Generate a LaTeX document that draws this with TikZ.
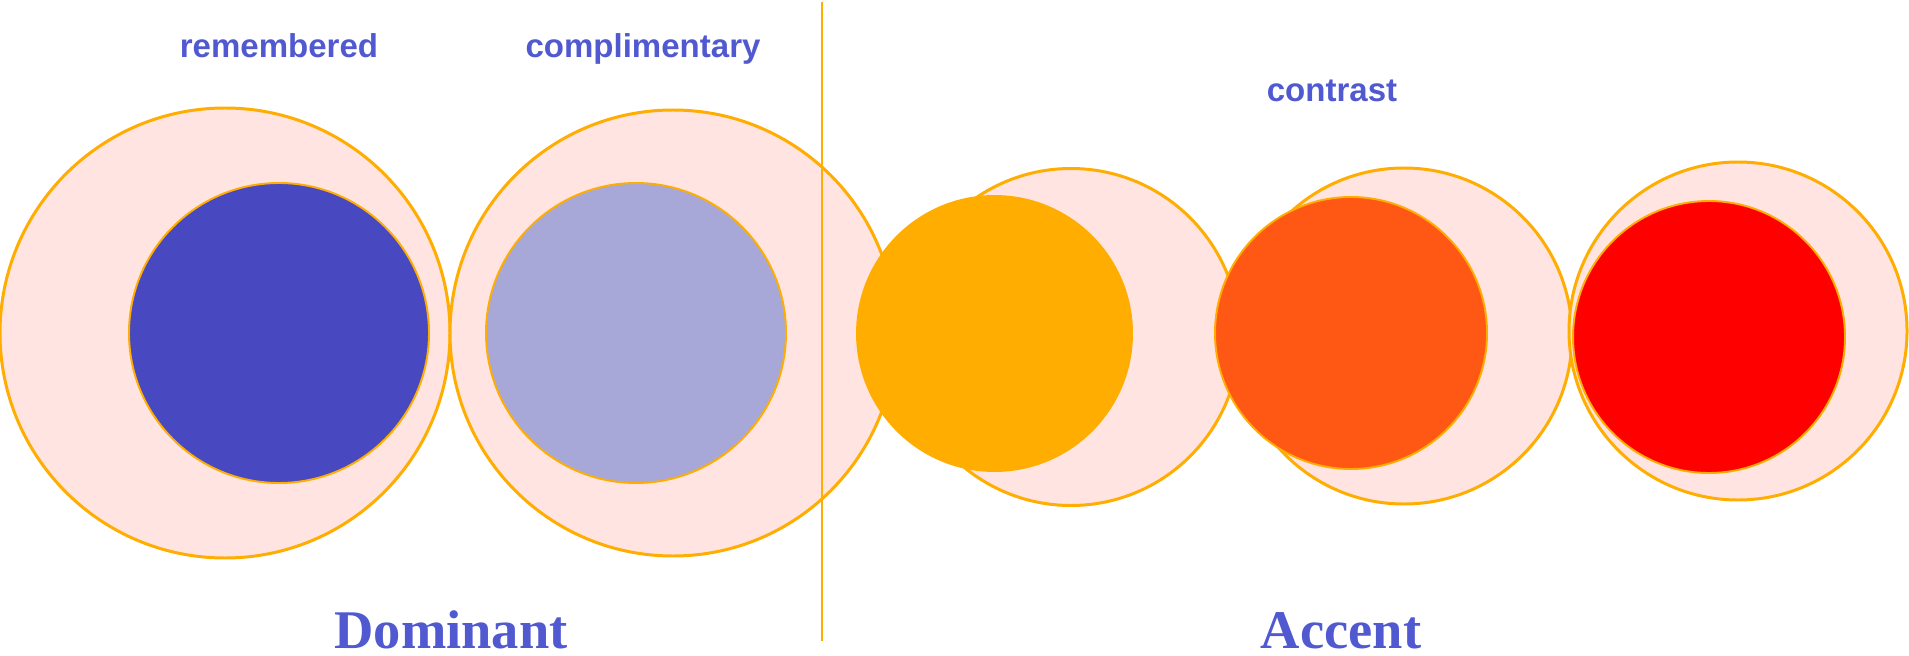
\documentclass[tikz,border=0pt]{standalone}
\usepackage{fontspec}
\setmainfont{Liberation Serif}
\setsansfont{Liberation Sans}
\usetikzlibrary{positioning}
\definecolor{ringline}{HTML}{FFAD00}
\definecolor{halofill}{HTML}{FFE4E1}
\definecolor{labelblue}{HTML}{5159D1}
\definecolor{dominant}{HTML}{4848C0}
\definecolor{compl}{HTML}{A8A8D8}
\definecolor{accent1}{HTML}{FFAD00}
\definecolor{accent2}{HTML}{FF5714}
\definecolor{accent3}{HTML}{FF0000}

\begin{document}
\begin{tikzpicture}[
    halo/.style={circle,draw=ringline,fill=halofill,line width=0.85pt,inner sep=0pt},
    disc/.style={circle,draw=ringline,line width=0.55pt,inner sep=0pt},
    tag/.style={font=\sffamily\bfseries\fontsize{9.4}{11}\selectfont,text=labelblue,anchor=base},
    group/.style={font=\bfseries\fontsize{15.5}{18}\selectfont,text=labelblue,anchor=base}]
  \useasboundingbox (0,0) rectangle (19.09,6.55);
  % Dominant side
  \node[halo,minimum size=4.50cm] (remHalo) at (2.25,3.22) {};
  \node[disc,fill=dominant,minimum size=3.00cm] (remDisc) at (2.79,3.22) {};
  \node[halo,minimum size=4.46cm] (compHalo) at (6.73,3.22) {};
  \node[disc,fill=compl,minimum size=3.00cm] (compDisc) at (6.36,3.22) {};
  % Divider
  \coordinate (divTop) at (8.22,6.53);
  \coordinate (divBot) at (8.22,0.14);
  \draw[ringline,line width=0.7pt] (divTop) -- (divBot);
  % Accent side
  \node[halo,minimum size=3.37cm] (acHaloA) at (10.71,3.18) {};
  \node[disc,fill=accent1,minimum size=2.75cm] (acDiscA) at (9.945,3.215) {};
  \node[halo,minimum size=3.36cm] (acHaloB) at (14.04,3.19) {};
  \node[disc,fill=accent2,minimum size=2.72cm] (acDiscB) at (13.51,3.22) {};
  \node[halo,minimum size=3.38cm] (acHaloC) at (17.38,3.24) {};
  \node[disc,fill=accent3,minimum size=2.72cm] (acDiscC) at (17.09,3.18) {};
  % Labels
  \node[tag] (remLabel) at (2.79,5.97) {remembered};
  \node[tag] (compLabel) at (6.43,5.97) {complimentary};
  \node[tag] (contLabel) at (13.32,5.53) {contrast};
  \node[group] (domLabel) at (4.51,0.07) {Dominant};
  \node[group] (accLabel) at (13.41,0.07) {Accent};
\end{tikzpicture}
\end{document}
